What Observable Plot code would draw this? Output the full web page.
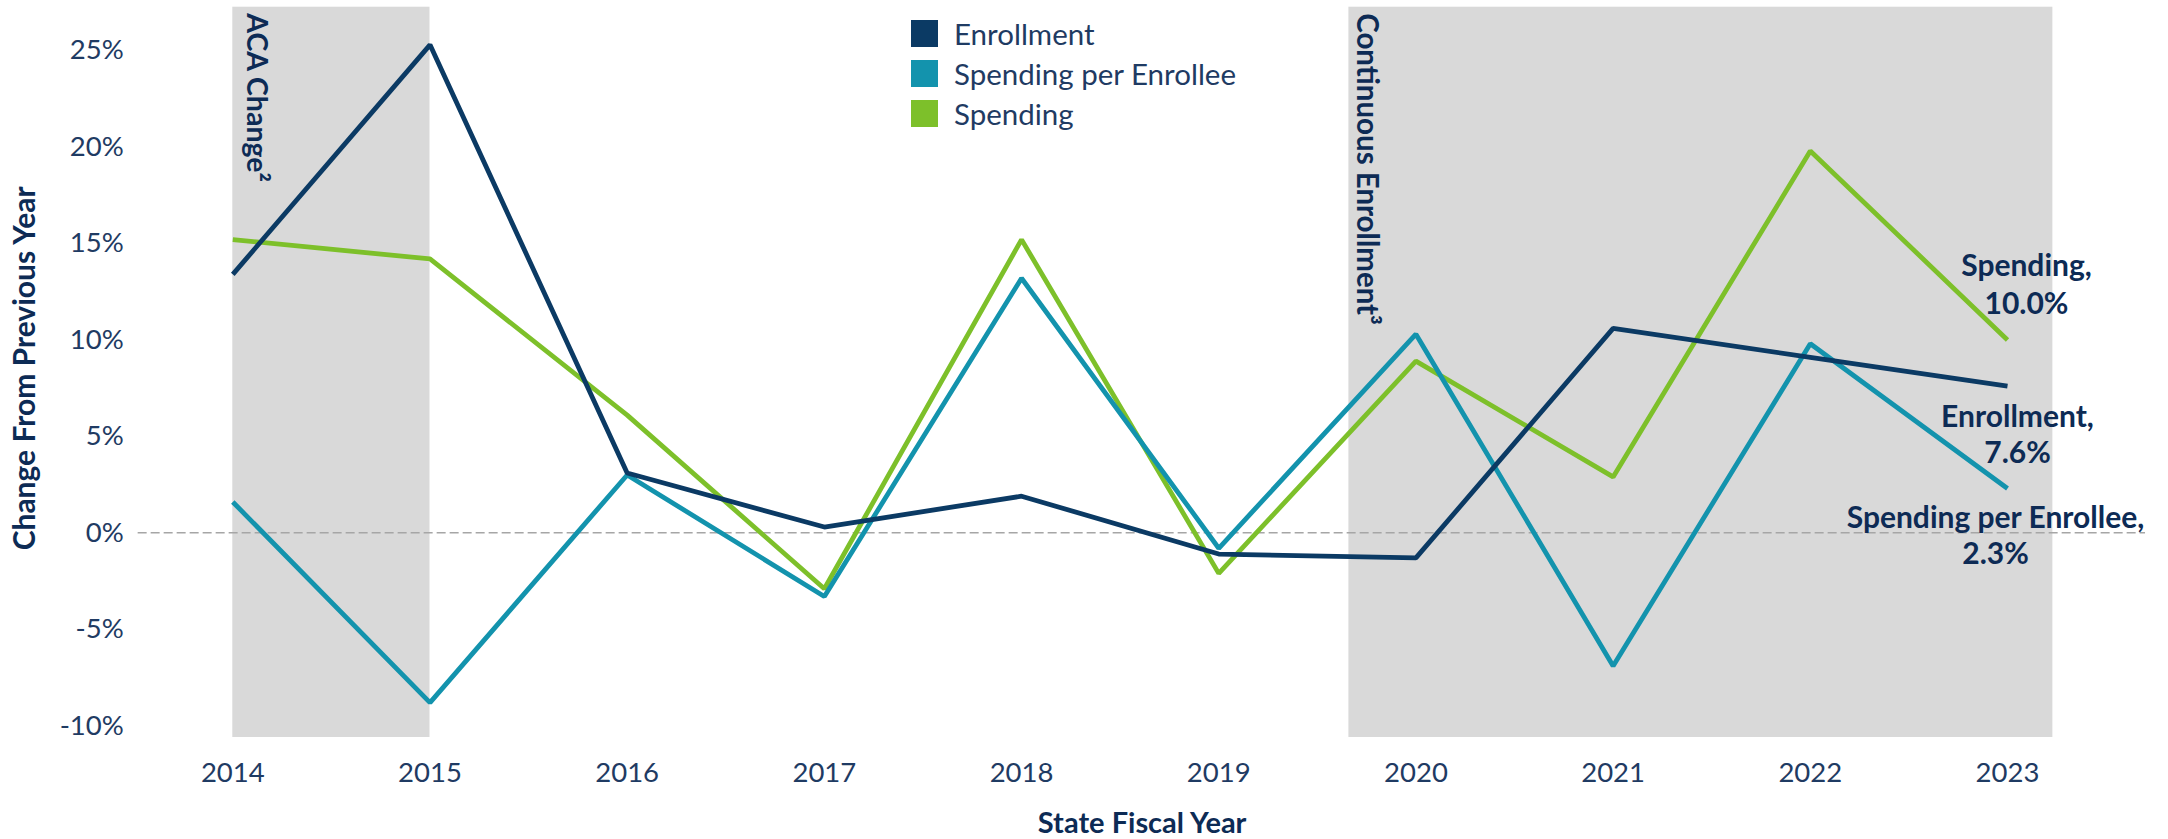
<!DOCTYPE html>
<html>
<head>
<meta charset="utf-8">
<script src="https://cdn.jsdelivr.net/npm/d3@7"></script>
<script src="https://cdn.jsdelivr.net/npm/@observablehq/plot@0.6"></script>
<style>
  html, body { margin: 0; padding: 0; background: #ffffff; }
  #wrap { position: relative; width: 2168px; height: 839px; overflow: hidden; }
  #legend { position: absolute; left: 911px; top: 13px; font-family: Lato, sans-serif; font-size: 29.5px; color: #1F3B63; }
  .row { display: flex; align-items: center; height: 40px; }
  .sw { width: 27px; height: 27px; flex: none; }
  .lbl { margin-left: 16px; white-space: nowrap; }
</style>
</head>
<body>
<div id="wrap"><div id="chart"></div><div id="legend"></div></div>
<script>
// ---- data ----
const years = [2014, 2015, 2016, 2017, 2018, 2019, 2020, 2021, 2022, 2023];
const enrollment = [13.4, 25.3, 3.1, 0.3, 1.9, -1.1, -1.3, 10.6, 9.1, 7.6];
const spendingPerEnrollee = [1.6, -8.8, 3.0, -3.3, 13.2, -0.8, 10.3, -6.9, 9.8, 2.3];
const spending = [15.2, 14.2, 6.1, -2.9, 15.2, -2.1, 8.9, 2.9, 19.8, 10.0];
const seriesNames = ["Enrollment", "Spending per Enrollee", "Spending"];
const seriesColors = ["#0B3A64", "#1393AD", "#7DC02A"];
const yTicks = [-10, -5, 0, 5, 10, 15, 20, 25];
const bandLabels = ["ACA Change\u00B2", "Continuous Enrollment\u00B3"];
const bandStarts = [2014, 2019.66];
const bandEnds = [2015, 2023.23];
const yDomain = [-10.61, 27.25];
const zeroLineSpan = [2013.52, 2023.7];
const xTitle = "State Fiscal Year";
const yTitle = "Change From Previous Year";

// ---- build tables ----
const seriesValues = [enrollment, spendingPerEnrollee, spending];
const rows = [];
[2, 1, 0].forEach(s => years.forEach((yr, i) => rows.push({year: yr, series: seriesNames[s], value: seriesValues[s][i]})));
const bands = bandStarts.map((b, i) => ({start: b, end: bandEnds[i], label: bandLabels[i]}));
const last = name => rows.filter(d => d.series === name && d.year === years[years.length - 1]);
const endText = d => `${d.series},\n${d.value.toFixed(1)}%`;
const titleColor = "#0D2B55";

const chart = Plot.plot({
  width: 2168,
  height: 839,
  marginLeft: 232.3,
  marginRight: 161,
  marginTop: 6.7,
  marginBottom: 102,
  style: {fontFamily: "Lato, sans-serif", fontSize: "27px", color: "#1F3B63", background: "#ffffff", overflow: "visible"},
  x: {domain: [years[0], years[years.length - 1]]},
  y: {domain: yDomain},
  color: {domain: seriesNames, range: seriesColors},
  marks: [
    Plot.rect(bands, {x1: "start", x2: "end", fill: "#D9D9D9"}),
    Plot.ruleY([{v: 0, a: zeroLineSpan[0], b: zeroLineSpan[1]}], {y: "v", x1: "a", x2: "b", stroke: "#A6A6A6", strokeWidth: 1.5, strokeDasharray: "9,4"}),
    Plot.axisY(yTicks, {tickFormat: d => d + "%", tickSize: 0, tickPadding: 109, label: null, fontSize: 27.5}),
    Plot.axisX(years, {tickFormat: d => String(d), tickSize: 0, tickPadding: 25, label: null, fontSize: 27.5}),
    Plot.line(rows, {x: "year", y: "value", z: "series", stroke: "series", strokeWidth: 4.8, strokeLinejoin: "miter", strokeLinecap: "butt"}),
    Plot.text([bands[0]], {x: "start", text: "label", frameAnchor: "top", rotate: 90, textAnchor: "start", lineAnchor: "middle", dx: 23, dy: 6, fontWeight: "bold", fontSize: 28.5, fill: titleColor}),
    Plot.text([bands[1]], {x: "start", text: "label", frameAnchor: "top", rotate: 90, textAnchor: "start", lineAnchor: "middle", dx: 17.5, dy: 6, fontWeight: "bold", fontSize: 29.5, fill: titleColor}),
    Plot.text(last("Spending"), {x: "year", y: "value", text: endText, dx: 19, dy: -57, lineHeight: 1.27, fontWeight: "bold", fontSize: 30, fill: titleColor}),
    Plot.text(last("Enrollment"), {x: "year", y: "value", text: endText, dx: 10, dy: 47, lineHeight: 1.23, fontWeight: "bold", fontSize: 30, fill: titleColor}),
    Plot.text(last("Spending per Enrollee"), {x: "year", y: "value", text: endText, dx: -12, dy: 46, lineHeight: 1.2, fontWeight: "bold", fontSize: 30, fill: titleColor}),
    Plot.text([xTitle], {frameAnchor: "bottom", dx: 22, dy: 86, lineAnchor: "middle", fontWeight: "bold", fontSize: 29, fill: titleColor}),
    Plot.text([yTitle], {frameAnchor: "left", rotate: -90, textAnchor: "middle", lineAnchor: "middle", dx: -207, dy: -4, fontWeight: "bold", fontSize: 30, fill: titleColor})
  ]
});
document.getElementById("chart").appendChild(chart);

// ---- legend ----
const legend = document.getElementById("legend");
seriesNames.forEach((name, i) => {
  const row = document.createElement("div");
  row.className = "row";
  const sw = document.createElement("div");
  sw.className = "sw";
  sw.style.background = seriesColors[i];
  const lbl = document.createElement("span");
  lbl.className = "lbl";
  lbl.textContent = name;
  row.appendChild(sw);
  row.appendChild(lbl);
  legend.appendChild(row);
});
</script>
</body>
</html>
